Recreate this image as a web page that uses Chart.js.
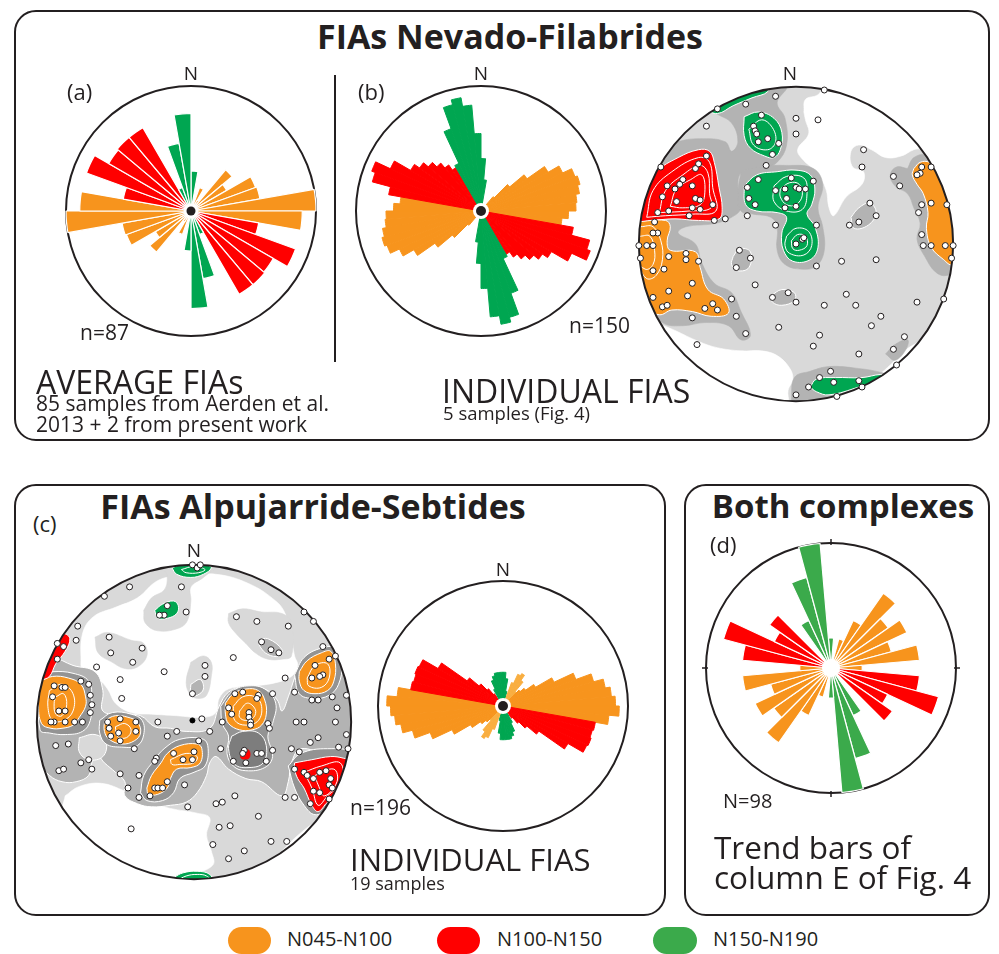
<!DOCTYPE html>
<html>
<head>
<meta charset="utf-8">
<script src="https://cdn.jsdelivr.net/npm/chart.js@4.4.0/dist/chart.umd.min.js"></script>
<style>
body { margin: 0; background: #fff; }
#page { position: relative; width: 999px; height: 954px; overflow: hidden; font-family: "Open Sans", sans-serif; color: #231F20; }
.box { position: absolute; border: 2px solid #231F20; border-radius: 22px; box-sizing: border-box; }
.t { position: absolute; white-space: nowrap; line-height: 1; }
.c { transform: translateX(-50%); }
.b { font-weight: 700; }
.pill { position: absolute; height: 27px; border-radius: 14px; }
canvas { position: absolute; }
</style>
</head>
<body>
<div id="page">
  <div class="box" style="left:14px;top:10px;width:976px;height:431px"></div>
  <div class="box" style="left:14px;top:484px;width:652px;height:432px"></div>
  <div class="box" style="left:684px;top:484px;width:306px;height:432px"></div>
  <div style="position:absolute;left:334px;top:75px;width:2px;height:287px;background:#231F20"></div>

  <canvas id="roseA" width="270" height="270" style="left:56px;top:76px"></canvas>
  <canvas id="roseB" width="270" height="270" style="left:346px;top:76px"></canvas>
  <canvas id="netB" width="340" height="340" style="left:626px;top:74px"></canvas>
  <canvas id="netC" width="340" height="340" style="left:24px;top:552px"></canvas>
  <canvas id="roseC" width="270" height="270" style="left:368px;top:571px"></canvas>
  <canvas id="roseD" width="270" height="270" style="left:696px;top:533px"></canvas>

  <div class="t b c" style="left:510px;top:19px;font-size:34px">FIAs Nevado-Filabrides</div>
  <div class="t c" style="left:191px;top:64px;font-size:19px">N</div>
  <div class="t c" style="left:481px;top:64px;font-size:19px">N</div>
  <div class="t c" style="left:790px;top:64px;font-size:19px">N</div>
  <div class="t" style="left:67px;top:80px;font-size:22px">(a)</div>
  <div class="t" style="left:358px;top:80px;font-size:22px">(b)</div>
  <div class="t" style="left:80px;top:322px;font-size:21px">n=87</div>
  <div class="t" style="left:569px;top:315px;font-size:21px">n=150</div>
  <div class="t" style="left:36px;top:366px;font-size:32px">AVERAGE FIAs</div>
  <div class="t" style="left:36px;top:393px;font-size:21px">85 samples from Aerden et al.</div>
  <div class="t" style="left:36px;top:414px;font-size:21px">2013 + 2 from present work</div>
  <div class="t" style="left:442px;top:375px;font-size:32px">INDIVIDUAL FIAS</div>
  <div class="t" style="left:443px;top:404px;font-size:18.5px">5 samples (Fig. 4)</div>

  <div class="t b c" style="left:313px;top:489px;font-size:34px">FIAs Alpujarride-Sebtides</div>
  <div class="t" style="left:33px;top:512px;font-size:22px">(c)</div>
  <div class="t c" style="left:194px;top:541px;font-size:19px">N</div>
  <div class="t c" style="left:503px;top:560px;font-size:19px">N</div>
  <div class="t" style="left:350px;top:797px;font-size:21px">n=196</div>
  <div class="t" style="left:350px;top:844px;font-size:31px">INDIVIDUAL FIAS</div>
  <div class="t" style="left:350px;top:874px;font-size:18px">19 samples</div>

  <div class="t b c" style="left:843px;top:489px;font-size:33px">Both complexes</div>
  <div class="t" style="left:710px;top:533px;font-size:22px">(d)</div>
  <div class="t" style="left:723px;top:791px;font-size:20px">N=98</div>
  <div class="t" style="left:714px;top:831px;font-size:31.5px">Trend bars of</div>
  <div class="t" style="left:714px;top:861px;font-size:31.5px">column E of Fig. 4</div>

  <div class="pill" style="left:228px;top:927px;width:43px;background:#F7941D"></div>
  <div class="t" style="left:287px;top:929px;font-size:20px">N045-N100</div>
  <div class="pill" style="left:437px;top:927px;width:43px;background:#FF0000"></div>
  <div class="t" style="left:497px;top:929px;font-size:20px">N100-N150</div>
  <div class="pill" style="left:653px;top:927px;width:44px;background:#3BAA4B"></div>
  <div class="t" style="left:713px;top:929px;font-size:20px">N150-N190</div>
</div>

<script>
const ORANGE = '#F7941D';
const RED = '#FF0000';
const GREEN = '#00A651';
const GREEN_D = '#3BAA4B';
const LIGHT_ORANGE = '#F9AE40';
const GRAY1 = '#D9D9D9';
const GRAY2 = '#B3B3B3';
const GRAY3 = '#939393';
const GRAY4 = '#7D7D7D';

// rose (a): 10 deg bins N000-N180 (axial data, the other half repeats), length as fraction of circle
const avgLen = [0.32, 0, 0.20, 0.10, 0.43, 0.33, 0.55, 0.56, 1.0, 0.89, 0.55, 0.89, 0.76, 0.77, 0.77, 0.20, 0.55, 0.78];
const avgCls = ['G', '-', 'O', 'O', 'O', 'O', 'O', 'O', 'O', 'O', 'R', 'R', 'R', 'R', 'R', 'G', 'G', 'G'];

// rose (b): 5 deg bins, Nevado-Filabrides individual FIAs
const indivNfLen = [0.42, 0.25, 0, 0, 0, 0, 0, 0.05, 0.15, 0.30, 0.45, 0.62, 0.72, 0.80, 0.82, 0.80, 0.77, 0.76,
  0.70, 0.65, 0.75, 0.90, 0.93, 0.80, 0.65, 0.60, 0.55, 0.50, 0.45, 0.40, 0.42, 0.70, 0.88, 0.92, 0.85, 0.62];
const indivNfCls = ['G', 'G', '-', '-', '-', '-', '-', 'O', 'O', 'O', 'O', 'O', 'O', 'O', 'O', 'O', 'O', 'O',
  'O', 'O', 'R', 'R', 'R', 'R', 'R', 'R', 'R', 'R', 'R', 'R', 'G', 'G', 'G', 'G', 'G', 'G'];

// rose (c): 5 deg bins, Alpujarride-Sebtides individual FIAs
const indivAsLen = [0.27, 0.22, 0.12, 0, 0.20, 0.28, 0.30, 0.25, 0.15, 0.18, 0.22, 0.30, 0.45, 0.62, 0.75, 0.83, 0.87, 0.90,
  0.93, 0.85, 0.75, 0.74, 0.75, 0.74, 0.60, 0.35, 0.25, 0.18, 0.12, 0, 0.15, 0.22, 0.25, 0.27, 0.27, 0.27];
const indivAsCls = ['G', 'G', 'G', '-', 'L', 'L', 'L', 'L', 'L', 'O', 'O', 'O', 'O', 'O', 'O', 'O', 'O', 'O',
  'O', 'O', 'R', 'R', 'R', 'R', 'R', 'R', 'R', 'R', 'R', '-', 'G', 'G', 'G', 'G', 'G', 'G'];

// rose (d): 10 deg bins centred on N000, N010 ... N170
const bothLen = [0.24, 0, 0.24, 0.42, 0.73, 0.56, 0.67, 0.50, 0.71, 0.25, 0.71, 0.89, 0.50, 0.60, 0, 0.42, 0.75, 1.0];
const bothCls = ['G', '-', 'O', 'O', 'O', 'O', 'O', 'O', 'O', 'O', 'R', 'R', 'R', 'R', '-', 'G', 'G', 'G'];

// stereonet (b), net radius = 100: FIA points x, y pairs
const nfPoints = [18,98, -13,94, -32,89, -50,86, -57,75, -22,82, -27,75, -26,72, -25,70, -18,67, -24,65, -11,64, -15,57, 0,80, 14,79, 0,70, -19,50, 43,60, 42,49, -86,49,
  -57,56, -62,51, -64,48, -72,41, -77,35, -74,38, -82,37, -66,37, -85,30, -76,27, -64,29, -61,28, -53,25, -66,23, -61,22, -81,21, -88,20, -68,18, -90,14,
  -88,7, -91,7, -100,-1, -95,-1, -91,-1, -99,-9, -91,-17, -84,-16, -81,-8, -70,-6, -70,-10, -62,-11, -66,-25, -81,-30, -69,-33, -91,-34, -85,-40, -82,-39,
  -58,-41, -53,-38, -50,-42, -66,-47, -41,-35, -38,-46, -32,-57, -63,-64, -52,15, -45,16, -31,18, -13,12,
  -24,41, -31,36, -30,29, -26,25, -13,34, -7,35, -3,42, 0,36, 2,35, 6,35, 11,40, -6,29, -7,23, 0,24, 13,12, 0,0, 4,3, 5,4,
  -36,-4, -29,-9, -38,-15, -26,-26, -15,-34, -5,-31, 0,-37, 13,-14, 29,-11, 51,-10, 47,26, 51,18, 40,14, 34,12, 32,-32, 38,-39, 18,-39, 54,-46, 48,-52,
  77,-37, 94,-35, -11,-53, 15,-58, 11,-65, 40,-70, 69,-59, 62,-67, 64,-77,
  80,49, 79,45, 77,44, 86,49, 62,43, 66,37, 80,25, 86,26, 96,25, 78,20, 80,6, 81,-1, 86,-1, 95,-1, 100,-1, 99,-9,
  22,-81, 15,-85, 8,-91, 24,-88, 40,-87, 42,-91, 26,-97, 0,-96];

// stereonet (b) density contours
const nfWhite1 = [5,84, 6,92, 14,95, 21,103, 55,96, 80,73, 84,62, 75,60, 67,56, 57,55, 48,60, 40,63, 35,59, 36,49, 43,46, 42,38, 32,30, 24,18, 21,23, 19,35, 13,46, 5,53, 1,60, 8,70, 6,79];
const nfWhite2 = [-84,-52, -77,-55, -62,-62, -50,-66, -35,-68, -22,-68, -12,-71, -4,-79, -2,-86, -5,-93, -6,-106, -72,-102, -98,-62];
const nfWhite3 = [51,-85, 61,-76, 69,-68, 77,-63, 86,-59, 93,-50, 105,-52, 84,-93, 55,-106];
const nfMid1 = [-104,15, -100,46, -89,57, -75,65, -59,67, -45,65, -41,59, -37,65, -41,77, -52,84, -56,90, -20,100, -6,100, -12,90, -7,80, -6,63, -12,52, -20,48, -27,45, -35,45,
  -37,36, -35,23, -41,17, -52,13, -70,11, -75,7, -64,0, -60,-12, -52,-25, -41,-31, -35,-43, -29,-58, -35,-61, -43,-52, -58,-50, -72,-52, -85,-50, -104,-31];
const nfMid2 = [-35,46, -25,49, -6,50, 11,48, 17,38, 14,23, 17,11, 18,-4, 13,-14, 4,-16, -7,-13, -12,-4, -12,11, -16,17, -27,19, -35,21, -37,32];
const nfMid3 = [35,17, 40,23, 47,26, 51,20, 46,12, 37,10];
const nfMid4 = [-40,-8, -36,-3, -29,-5, -30,-15, -37,-17, -41,-13];
const nfMid5 = [-16,-33, -9,-29, -1,-31, -1,-36, -9,-39, -15,-37];
const nfMid6 = [71,48, 75,55, 84,57, 96,52, 107,32, 107,-14, 96,-20, 89,-18, 82,-8, 77,3, 79,13, 75,23, 71,32, 63,37, 60,44, 64,49];
const nfMid7 = [-3,-100, -1,-85, 9,-81, 21,-78, 38,-79, 55,-82, 63,-86, 59,-97, 21,-108];
const nfMid8 = [57,-70, 63,-64, 71,-61, 70,-67, 63,-74];
const nfRed = [-100,17, -95,36, -89,46, -75,55, -62,60, -55,59, -52,52, -49,36, -47,23, -49,16, -62,15, -77,16, -91,15, -102,14];
const nfOrangeW = [-102,14, -83,15, -80,11, -82,2, -80,-4, -64,-5, -61,-15, -56,-29, -46,-35, -43,-44, -54,-46, -66,-43, -79,-42, -87,-45, -100,-39, -104,-10];
const nfOrangeE = [75,48, 79,52, 85,52, 94,46, 101,25, 102,-2, 99,-13, 94,-10, 86,-2, 83,10, 84,20, 81,32, 77,38, 74,44];
const nfGreenN = [-33,81, -24,84, -14,80, -9,71, -10,60, -14,55, -20,56, -29,61, -33,69];
const nfGreenC = [-33,37, -25,44, -12,46, 0,47, 9,44, 12,35, 10,25, 7,19, 12,11, 14,-2, 9,-10, -2,-11, -8,-4, -9,7, -6,17, -12,20, -25,21, -32,25];
const nfGreenRim = [-58,86, -48,96, -20,102, -18,97, -28,93, -40,88, -50,83];
const nfGreenS = [9,-91, 13,-86, 25,-85, 42,-85, 54,-83, 60,-84, 40,-91, 21,-96, 13,-94];
const nfLines = [
  [-95,17, -91,34, -79,46, -62,55, -55,52, -53,36, -51,21, -66,19, -83,18],
  [-87,20, -83,34, -72,44, -61,50, -56,45, -55,32, -54,23, -68,21],
  [-80,24, -76,35, -67,41, -60,44, -58,33, -61,25, -72,23],
  [-14,37, -6,43, 5,42, 7,32, 4,22, -6,21, -14,27],
  [-10,35, -4,39, 2,38, 4,31, 0,25, -6,25, -10,30],
  [-6,5, 0,10, 8,8, 10,-1, 5,-7, -4,-6, -7,-1],
  [-3,2, 1,6, 6,5, 7,-1, 2,-4, -2,-3],
  [-30,73, -22,79, -15,74, -13,65, -18,60, -27,63],
  [-99,11, -91,11, -86,2, -85,-10, -89,-20, -95,-22, -100,-14, -106,0],
  [-99,5, -93,5, -90,-4, -91,-13, -96,-16, -106,-5]
];

// stereonet (c): FIA points
const asPoints = [-1,100, 2,98, 4,100, -8,86, -41,86, -57,80, -17,74, -19,68, -22,68, -5,70,
  -74,61, -75,52, -87,50, -83,48, -87,40, -54,54, -53,44, -33,47, -62,35, -39,38, -47,27, -19,32, -46,15,
  27,67, 40,64, 60,61, 43,51, 49,46, 54,44, 25,41, 7,36, 7,29, -1,18, 5,2, -23,0,
  70,70, 76,64, 82,48, 86,40, 90,42, 77,36, 82,30, 75,28, 80,29, 58,28, 64,19, 75,14, 79,14, 88,16, 97,17, 91,9, 90,0, 97,-8, 98,-17, 92,-16, 79,-10, 74,-13, 70,0, 65,0, 62,-17, 67,-19,
  -89,23, -84,22, -82,22, -72,26, -67,24, -90,16, -86,7, -82,7, -89,0, -91,0, -82,0, -76,0, -71,0, -66,17, -65,11, -66,6,
  -55,0, -47,2, -37,0, -54,-4, -48,-7, -53,-9, -47,-12, -37,-6, -38,-17, -80,-14, -88,-15, -72,-26, -67,-24, -65,-30, -86,-31, -83,-30,
  -17,-9, -11,-6, 3,-12, 0,-19, -1,-24, -13,-20, -7,-24, -24,-23, -25,-25, -35,-34, -25,-42, -23,-42, -20,-42, -17,-38, -6,-40, -28,-47, -35,-48, -42,-42, -47,-33,
  26,18, 31,19, 41,17, 40,15, 50,18, 22,9, 24,5, 35,6, 35,3, 36,0, 36,-2, 18,0, 47,-1, 48,-4, 10,-6, 17,-17, 32,-18, 31,-20, 25,-25, 33,-26, 40,-20, 43,-20, 46,-25, 50,-18,
  64,-30, 70,-32, 72,-34, 76,-36, 80,-32, 84,-31, 87,-36, 86,-40, 88,-42, 76,-44, 80,-45, 86,-49, 74,-52, 64,-48, 58,-48,
  -4,-54, 14,-52, 18,-51, 26,-47, 41,-60, 16,-67, 23,-66, 12,-78, 22,-87, 32,-82, 49,-76, 59,-76, -40,-68];
const asCentre = [-1, 1];

// stereonet (c) density contours
const asWhiteN = [-72,36, -71,56, -64,67, -50,73, -36,79, -23,90, -9,93, 14,94, 35,88, 52,77, 58,69, 62,54, 64,42, 66,36, 62,29, 52,25, 39,23, 22,21, 16,15, 14,6, 6,3, -11,4, -27,5, -40,6, -50,12, -55,21, -61,27, -69,29];
const asWhiteS = [-82,-47, -73,-41, -59,-39, -44,-44, -32,-50, -15,-55, 2,-58, 10,-61, 8,-72, 11,-82, 12,-91, -2,-97, -15,-99, -40,-97, -61,-88, -77,-74, -84,-59];
const asWhiteSE = [56,-82, 64,-74, 75,-65, 85,-59, 95,-78, 64,-103];
const asLight1 = [-32,71, -27,79, -19,84, -17,92, -19,100, 14,100, 6,92, -2,86, -2,77, -4,65, -9,60, -23,58, -31,63];
const asLight2 = [-63,54, -55,57, -40,52, -32,50, -30,42, -36,35, -44,34, -52,38, -61,44];
const asLight3 = [-2,38, 6,42, 11,38, 11,29, 8,17, 3,15, -2,17, -5,25];
const asLight4 = [22,69, 31,72, 43,70, 56,69, 62,63, 62,42, 56,40, 47,40, 39,44, 33,50, 27,56, 22,63];
const asLight5 = [-73,-10, -63,-8, -56,-13, -58,-22, -67,-24, -73,-19];
const asMidBand = [-102,39, -90,41, -77,36, -63,32, -58,20, -58,7, -46,5, -34,4, -25,-3, -15,-4, -5,-6, 10,-4, 16,10, 22,19, 33,23, 45,21, 53,14, 56,7, 60,16, 64,28, 68,37, 79,45, 91,45, 104,24,
  104,-26, 95,-26, 85,-22, 68,-17, 62,-26, 60,-38, 56,-47, 43,-38, 33,-36, 22,-30, 14,-22, 10,-26, 8,-34, 2,-45, -5,-51, -15,-53, -27,-54, -36,-52, -44,-47, -44,-38, -50,-32,
  -57,-26, -61,-22, -65,-26, -67,-34, -75,-38, -84,-38, -92,-34, -98,-26, -102,-17];
const asMid2 = [41,52, 47,53, 56,46, 54,42, 47,43, 42,48];
const asMid3 = [-2,24, 4,27, 6,21, 2,17, -2,17];
const asDark1 = [17,10, 25,20, 35,23, 45,21, 52,12, 50,-1, 47,-9, 50,-22, 45,-29, 33,-31, 25,-28, 21,-20, 22,-9, 18,-1];
const asDark2 = [-99,30, -90,32, -77,31, -67,26, -65,14, -66,1, -71,-6, -82,-8, -92,-7, -98,-5];
const asDark3 = [-60,1, -52,6, -40,5, -33,1, -32,-8, -36,-15, -46,-16, -56,-14, -60,-7];
const asDark4 = [-34,-45, -32,-34, -25,-24, -19,-17, -9,-11, 6,-11, 9,-17, 7,-28, 0,-32, -9,-36, -13,-45, -20,-50, -30,-50];
const asDark5 = [64,30, 70,41, 81,47, 90,47, 94,37, 92,24, 86,17, 76,15, 67,18];
const asDark6 = [60,-28, 68,-20, 85,-17, 100,-20, 100,-38, 85,-55, 77,-59, 70,-53, 64,-42];
const asDarkest = [24,-9, 31,-6, 41,-7, 46,-15, 44,-26, 35,-29, 26,-27, 22,-17];
const asOrange1 = [-98,26, -90,29, -80,28, -72,24, -69,16, -69,10, -73,3, -77,-2, -84,-4, -91,-4, -97,-1, -99,12];
const asOrange2 = [-57,1, -50,4, -42,3, -36,0, -34,-7, -38,-12, -46,-14, -54,-11, -57,-6];
const asOrange3 = [-30,-42, -27,-34, -21,-26, -17,-20, -9,-15, 2,-14, 5,-17, 4,-26, -2,-29, -11,-30, -15,-36, -17,-42, -23,-46, -29,-46];
const asOrange4 = [20,12, 25,18, 33,21, 41,20, 45,14, 46,5, 43,-2, 37,-5, 29,-5, 22,-1, 20,5];
const asOrange5 = [67,32, 72,39, 81,44, 87,45, 90,37, 89,26, 85,20, 77,18, 70,20, 67,26];
const asRed1 = [-105,20, -94,39, -88,49, -83,56, -79,53, -82,45, -88,37, -92,29, -98,26];
const asRed2 = [64,-26, 75,-24, 87,-22, 95,-23, 104,-26, 97,-42, 85,-51, 79,-57, 75,-53, 70,-42, 66,-36, 64,-30];
const asRed3 = [30,-18, 35,-18, 35,-23, 30,-23];
const asGreen1 = [-14,98, -9,100, 0,101, 8,100, 11,98, 6,94, -2,92, -11,94];
const asGreen2 = [-25,71, -20,75, -13,77, -10,74, -11,69, -17,66, -23,66];
const asGreen3 = [-13,-99, -7,-96, 2,-95, 10,-97, 12,-103, -13,-103];
const asLines = [
  [-92,20, -84,24, -77,18, -77,7, -83,1, -90,1, -93,10],
  [-88,16, -83,18, -81,11, -84,4, -88,5, -89,12],
  [25,10, 31,16, 39,16, 43,10, 41,1, 33,-2, 26,1],
  [29,7, 34,12, 39,8, 38,3, 33,1, 29,3],
  [72,28, 77,36, 85,37, 86,28, 81,22, 73,23],
  [-15,-24, -5,-20, 2,-22, 0,-26, -9,-27, -14,-27],
  [-50,-3, -44,-1, -40,-5, -43,-10, -49,-9],
  [70,-32, 81,-28, 93,-26, 94,-38, 85,-47, 79,-53, 75,-42],
  [77,-34, 89,-30, 91,-38, 83,-47, 79,-40],
  [-8,97, 0,99, 7,97, 3,95, -5,95],
  [-11,-101, -5,-98, 2,-97, 8,-98, 11,-102, 0,-106]
];

// ---------- rose diagrams ----------
const roseMarks = {
  id: 'roseMarks',
  afterDatasetsDraw(chart, args, o) {
    const s = chart.scales.r;
    const ctx = chart.ctx;
    const cx = s.xCenter, cy = s.yCenter, R = s.drawingArea;
    ctx.save();
    if (o.ticks) {
      ctx.strokeStyle = '#231F20';
      ctx.lineWidth = 1.5;
      [[0, -1], [1, 0], [0, 1], [-1, 0]].forEach(([dx, dy]) => {
        ctx.beginPath();
        ctx.moveTo(cx + dx * (R - 2), cy + dy * (R - 2));
        ctx.lineTo(cx + dx * (R + 4), cy + dy * (R + 4));
        ctx.stroke();
      });
    }
    if (o.hole) {
      ctx.beginPath();
      ctx.arc(cx, cy, o.hole, 0, Math.PI * 2);
      ctx.fillStyle = '#fff';
      ctx.fill();
    }
    if (o.dot) {
      ctx.beginPath();
      ctx.arc(cx, cy, o.dot, 0, Math.PI * 2);
      ctx.fillStyle = '#231F20';
      ctx.fill();
    }
    ctx.restore();
  }
};

function drawRose(id, len, cls, colours, opts) {
  const data = len.concat(len);
  const bg = cls.concat(cls).map(c => colours[c] || 'rgba(0,0,0,0)');
  new Chart(document.getElementById(id), {
    type: 'polarArea',
    data: {
      labels: data.map((_, i) => i),
      datasets: [{
        data: data,
        backgroundColor: bg,
        borderColor: opts.ragged ? bg : '#fff',
        borderWidth: opts.ragged ? 1 : 1.2
      }]
    },
    options: {
      responsive: false,
      animation: false,
      events: [],
      layout: { padding: 10 },
      plugins: {
        legend: { display: false },
        tooltip: { enabled: false },
        roseMarks: { hole: opts.hole, dot: opts.dot, ticks: opts.ticks }
      },
      scales: {
        r: {
          min: 0,
          max: 1,
          startAngle: opts.start || 0,
          ticks: { display: false, stepSize: 1 },
          grid: { circular: true, color: '#231F20', lineWidth: 2 },
          angleLines: { display: false },
          pointLabels: { display: false }
        }
      }
    },
    plugins: [roseMarks]
  });
}

drawRose('roseA', avgLen, avgCls, { O: ORANGE, R: RED, G: GREEN }, { hole: 7, dot: 4.5 });
drawRose('roseB', indivNfLen, indivNfCls, { O: ORANGE, R: RED, G: GREEN }, { ragged: true, hole: 8, dot: 5 });
drawRose('roseC', indivAsLen, indivAsCls, { O: ORANGE, R: RED, G: GREEN, L: LIGHT_ORANGE }, { ragged: true, hole: 8, dot: 5 });
drawRose('roseD', bothLen, bothCls, { O: ORANGE, R: RED, G: GREEN_D }, { start: -5, hole: 9, ticks: true });

// ---------- stereonets ----------
function pairs(a) {
  const out = [];
  for (let i = 0; i < a.length; i += 2) out.push({ x: a[i], y: a[i + 1] });
  return out;
}

const netFrame = {
  id: 'netFrame',
  beforeDatasetsDraw(chart) {
    const { ctx, scales: { x, y } } = chart;
    const cx = x.getPixelForValue(0), cy = y.getPixelForValue(0);
    const r = x.getPixelForValue(100) - cx;
    ctx.save();
    ctx.beginPath();
    ctx.arc(cx, cy, r, 0, Math.PI * 2);
    ctx.clip();
    ctx.fillStyle = GRAY1;
    ctx.fill();
  },
  beforeDatasetDraw(chart, args) {
    if (args.index !== 0) return;
    const { ctx, scales: { x, y } } = chart;
    ctx.restore();
    const cx = x.getPixelForValue(0), cy = y.getPixelForValue(0);
    const r = x.getPixelForValue(100) - cx;
    ctx.save();
    ctx.beginPath();
    ctx.arc(cx, cy, r, 0, Math.PI * 2);
    ctx.lineWidth = 2;
    ctx.strokeStyle = '#231F20';
    ctx.stroke();
    ctx.restore();
  }
};

function drawNet(id, pts, centre, layers, lines) {
  const datasets = [
    { data: pairs(pts), showLine: false, pointRadius: 3, pointBackgroundColor: '#fff', pointBorderColor: '#231F20', pointBorderWidth: 1 },
    { data: pairs(centre), showLine: false, pointRadius: 2.5, pointBackgroundColor: '#000', pointBorderColor: '#000', pointBorderWidth: 1 }
  ];
  lines.slice().reverse().forEach(l => {
    const d = pairs(l);
    d.push(d[0]);
    datasets.push({ data: d, showLine: true, fill: false, borderColor: '#fff', borderWidth: 1, pointRadius: 0, tension: 0.4 });
  });
  layers.slice().reverse().forEach(([shape, colour, edge]) => {
    const d = pairs(shape);
    d.push(d[0]);
    datasets.push({
      data: d, showLine: true, fill: 'shape', backgroundColor: colour,
      borderColor: edge ? '#fff' : colour, borderWidth: edge ? 1 : 0.6, pointRadius: 0, tension: 0.4
    });
  });
  new Chart(document.getElementById(id), {
    type: 'scatter',
    data: { datasets },
    options: {
      responsive: false,
      animation: false,
      events: [],
      layout: { padding: 2 },
      plugins: { legend: { display: false }, tooltip: { enabled: false } },
      scales: {
        x: { type: 'linear', min: -105, max: 105, display: false },
        y: { type: 'linear', min: -105, max: 105, display: false }
      }
    },
    plugins: [netFrame]
  });
}

drawNet('netB', nfPoints, [], [
  [nfWhite1, '#fff'], [nfWhite2, '#fff'], [nfWhite3, '#fff'],
  [nfMid1, GRAY2], [nfMid2, GRAY2], [nfMid3, GRAY2, true], [nfMid4, GRAY2, true], [nfMid5, GRAY2, true],
  [nfMid6, GRAY2], [nfMid7, GRAY2], [nfMid8, GRAY2],
  [nfRed, RED, true], [nfOrangeW, ORANGE, true], [nfOrangeE, ORANGE, true],
  [nfGreenN, GREEN, true], [nfGreenC, GREEN, true], [nfGreenRim, GREEN, true], [nfGreenS, GREEN, true]
], nfLines);

drawNet('netC', asPoints, asCentre, [
  [asWhiteN, '#fff'], [asWhiteS, '#fff'], [asWhiteSE, '#fff'],
  [asLight1, GRAY1], [asLight2, GRAY1], [asLight3, GRAY1], [asLight4, GRAY1],
  [asMidBand, GRAY2, true], [asLight5, GRAY1, true], [asMid2, GRAY2, true], [asMid3, GRAY2, true],
  [asDark1, GRAY3, true], [asDark2, GRAY3, true], [asDark3, GRAY3, true], [asDark4, GRAY3, true], [asDark5, GRAY3, true], [asDark6, GRAY3, true],
  [asDarkest, GRAY4, true],
  [asOrange1, ORANGE, true], [asOrange2, ORANGE, true], [asOrange3, ORANGE, true], [asOrange4, ORANGE, true], [asOrange5, ORANGE, true],
  [asRed1, RED, true], [asRed2, RED, true], [asRed3, RED],
  [asGreen1, GREEN, true], [asGreen2, GREEN, true], [asGreen3, GREEN, true]
], asLines);
</script>
</body>
</html>
